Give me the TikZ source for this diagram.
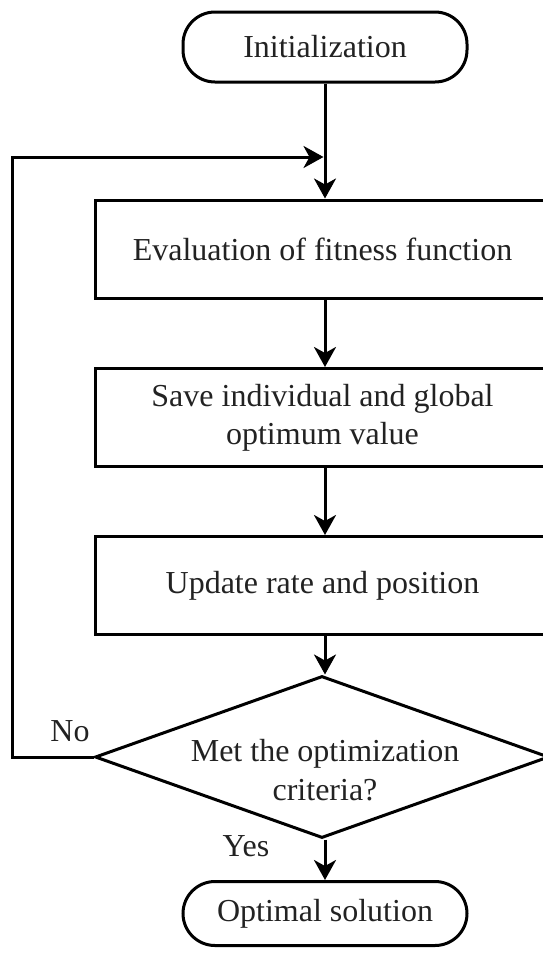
\documentclass[tikz,border=0pt]{standalone}
\usepackage{fontspec}
\setmainfont{Liberation Serif}
\usetikzlibrary{arrows.meta,shapes.geometric}
\definecolor{ink}{RGB}{34,34,34}

\tikzset{
  base/.style={draw=black, line width=3pt, text=ink, font=\fontsize{32}{38.4}\selectfont, align=center, inner sep=0pt},
  terminal/.style={base, rectangle, rounded corners=32pt, minimum width=284pt},
  process/.style={base, rectangle, minimum width=455pt, minimum height=98pt},
  decision/.style={base, diamond, minimum width=454pt, minimum height=162pt},
  flow/.style={draw=black, line width=3pt, -{Stealth[length=20pt,width=22pt,inset=6pt]}},
  lbl/.style={text=ink, font=\fontsize{32}{38.4}\selectfont, inner sep=0pt}
}

\begin{document}
\begin{tikzpicture}[x=1pt,y=-1pt]
\useasboundingbox (0,0) rectangle (543,959);

% flowchart blocks
\node[terminal, minimum height=70pt] (init) at (325,47) {Initialization};
\node[process] (eval) at (322.5,249) {Evaluation of fitness function};
\node[process] (save) at (322.5,417.5) {Save individual and global\\optimum value};
\node[process] (upd) at (322.5,585.5) {Update rate and position};
\node[decision] (dec) at (322,757) {};
\node[lbl, align=center] (dectext) at (325,770) {Met the optimization\\criteria?};
\node[terminal, minimum height=64pt] (opt) at (325,913.5) {Optimal solution};

% branch labels
\node[lbl] (no) at (70,731) {No};
\node[lbl] (yes) at (246,846) {Yes};

% loop-back entry point on the main line
\coordinate (join) at (325,157);

% connectors
\draw[line width=3pt] (init.south) -- (join);
\draw[flow] (join) -- (eval.north -| join);
\draw[flow] (eval.south -| join) -- (save.north -| join);
\draw[flow] (save.south -| join) -- (upd.north -| join);
\draw[flow] (upd.south -| join) -- (dec.north -| join);
\draw[flow] (dec.south -| join) -- (opt.north);
\draw[flow] (dec.west) -- (12,757) |- ([xshift=-1.5pt]join);
\end{tikzpicture}
\end{document}
